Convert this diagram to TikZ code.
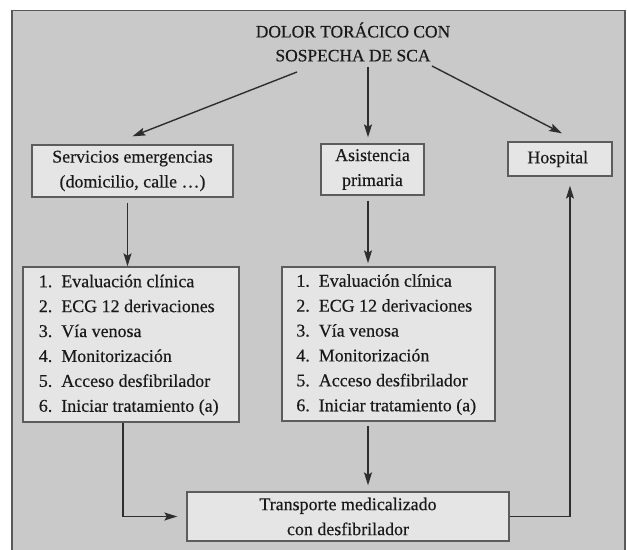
\documentclass[tikz,border=0pt]{standalone}
\usepackage{fontspec}
\setmainfont{Liberation Serif}[FakeBold=0.4]
\usepackage{tikz}
\usetikzlibrary{positioning, arrows.meta}
\definecolor{fondo}{gray}{0.79}
\definecolor{relleno}{gray}{0.90}
\definecolor{borde}{gray}{0.36}
\definecolor{linea}{gray}{0.18}
\definecolor{texto}{gray}{0.10}

\tikzset{
    cuadro/.style={draw=borde, fill=relleno, line width=1.4pt, inner sep=0pt, align=center, text=texto, font=\fontsize{18}{25}\selectfont},
    flecha/.style={draw=linea, line width=1.4pt, -{Stealth[length=13pt, width=8pt, inset=2.5pt]}},
}

\begin{document}
\begin{tikzpicture}[x=1bp, y=-1bp]
            \useasboundingbox (0,0) rectangle (627,550);
            \fill[fondo] (12,10.5) rectangle (625,550);
            \draw[line width=1.8pt, black!65] (12,550) -- (12,10.5) -- (625,10.5) -- (625,550);

            \node[text=texto, align=center, font=\fontsize{17.5}{24}\selectfont] (titulo) at (353,42) {
                DOLOR TORÁCICO CON\\SOSPECHA DE SCA
            };

            \node[cuadro, minimum width=201bp, minimum height=52bp] (servicios) at (132.5,171) {
                Servicios emergencias\\(domicilio, calle \dots)
            };
            \node[cuadro, minimum width=103bp, minimum height=51bp] (asistencia) at (372.5,169.5) {
                Asistencia\\primaria
            };
            \node[cuadro, minimum width=104bp, minimum height=34bp] (hospital) at (560,159) {
                Hospital
            };

            \node[cuadro, minimum width=216bp, minimum height=155bp] (listaA) at (131,344.5) {
                \begin{tabular}{@{}l@{\hspace{9bp}}l@{}}
                    1. & Evaluación clínica \\
                    2. & ECG 12 derivaciones \\
                    3. & Vía venosa \\
                    4. & Monitorización \\
                    5. & Acceso desfibrilador \\
                    6. & Iniciar tratamiento (a)
                \end{tabular}
            };
            \node[cuadro, minimum width=213bp, minimum height=154bp] (listaB) at (388.5,344) {
                \begin{tabular}{@{}l@{\hspace{9bp}}l@{}}
                    1. & Evaluación clínica \\
                    2. & ECG 12 derivaciones \\
                    3. & Vía venosa \\
                    4. & Monitorización \\
                    5. & Acceso desfibrilador \\
                    6. & Iniciar tratamiento (a)
                \end{tabular}
            };

            \node[cuadro, minimum width=322bp, minimum height=49bp] (transporte) at (348,516.5) {
                Transporte medicalizado\\con desfibrilador
            };

            \coordinate (salA) at (297,72);
            \coordinate (salB) at (368,67);
            \coordinate (salC) at (432,66);

            \draw[flecha] (salA) -- ([yshift=8pt]servicios.north);
            \draw[flecha, shorten >=6pt] (salB) -- (salB |- asistencia.north);
            \draw[flecha] (salC) -- ([xshift=2pt, yshift=8pt]hospital.north);

            \draw[flecha, shorten <=5pt] ([xshift=-5pt]servicios.south) -- ([xshift=-5pt]servicios.south |- listaA.north);
            \draw[flecha, shorten <=5pt, shorten >=3pt] (salB |- asistencia.south) -- (salB |- listaB.north);
            \draw[flecha, shorten <=4pt, shorten >=6pt] (salB |- listaB.south) -- (salB |- transporte.north);

            \draw[flecha, shorten >=9pt] ([xshift=-8pt]listaA.south) |- (transporte.west);
            \draw[flecha, shorten >=9pt] (transporte.east) -| ([xshift=10pt]hospital.south);
        \end{tikzpicture}
\end{document}
